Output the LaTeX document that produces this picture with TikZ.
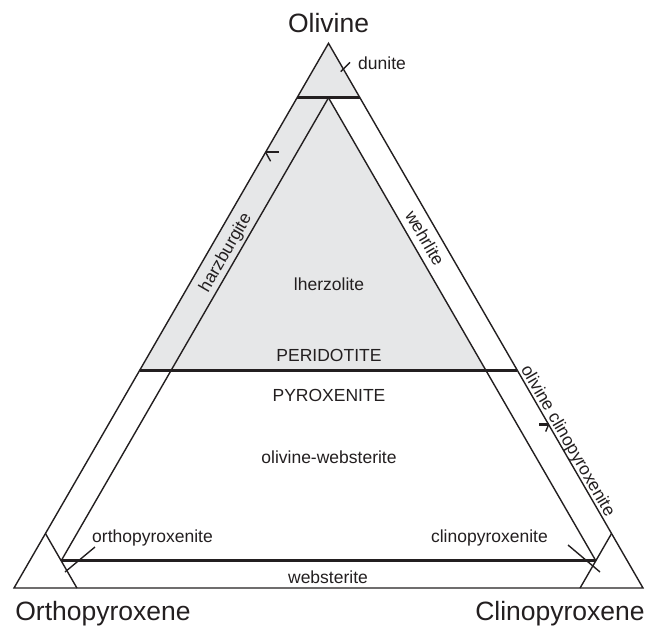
\documentclass[tikz,border=0pt]{standalone}
\usepackage{fontspec}
\setmainfont{Liberation Sans}
\usetikzlibrary{calc}
\definecolor{ink}{RGB}{35,31,32}
\definecolor{fieldgray}{RGB}{230,231,232}
\begin{document}
\begin{tikzpicture}[x=1pt,y=-1pt,
  edge/.style={draw=ink,line width=1.4pt},
  heavy/.style={draw=ink,line width=3pt},
  tickmark/.style={draw=ink,line width=2.2pt},
  lead/.style={draw=ink,line width=1.4pt},
  lab/.style={font=\fontsize{17.5}{20}\selectfont,text=ink,inner sep=0pt},
  vlab/.style={font=\fontsize{26.5}{30}\selectfont,text=ink,inner sep=0pt}]
\useasboundingbox (0,0) rectangle (659,628);
\fill[white] (0,0) rectangle (659,628);
% vertices
\coordinate (opx) at (14,588);
\coordinate (cpx) at (643,588);
\coordinate (ol) at (328.5,43.3);
% ternary points
\coordinate (d1) at (barycentric cs:ol=0.9,opx=0.1);
\coordinate (d2) at (barycentric cs:ol=0.9,cpx=0.1);
\coordinate (m) at (barycentric cs:ol=0.9,opx=0.05,cpx=0.05);
\coordinate (p1) at (barycentric cs:ol=0.4,opx=0.6);
\coordinate (p2) at (barycentric cs:ol=0.4,cpx=0.6);
\coordinate (q2) at (barycentric cs:ol=0.4,opx=0.05,cpx=0.55);
\coordinate (l5) at (barycentric cs:ol=0.05,opx=0.9,cpx=0.05);
\coordinate (r5) at (barycentric cs:ol=0.05,opx=0.05,cpx=0.9);
\coordinate (o1) at (barycentric cs:ol=0.1,opx=0.9);
\coordinate (o2) at (barycentric cs:cpx=0.1,opx=0.9);
\coordinate (c1) at (barycentric cs:ol=0.1,cpx=0.9);
\coordinate (c2) at (barycentric cs:opx=0.1,cpx=0.9);
\coordinate (t1) at (barycentric cs:ol=0.8,opx=0.2);
\coordinate (t2) at (barycentric cs:ol=0.3,cpx=0.7);
% shading of the peridotite fields
\fill[fieldgray] (ol) -- (d2) -- (m) -- (q2) -- (p1) -- cycle;
% outline and field boundaries
\draw[edge] (opx) -- (cpx) -- (ol) -- cycle;
\draw[edge] (m) -- (l5);
\draw[edge] (m) -- (r5);
\draw[edge] (o1) -- (o2);
\draw[edge] (c1) -- (c2);
\draw[heavy] (d1) -- (d2);
\draw[heavy] (p1) -- (p2);
\draw[heavy] (l5) -- (r5);
% ticks
\draw[tickmark] (t1) -- ++(13,0);
\draw[edge] (t1) -- ++(5,9);
\draw[tickmark] (t2) -- ++(-10,0);
\draw[edge] (t2) -- ++(-3,7);
% vertex labels
\node[vlab,anchor=base] (olv) at (328.5,33) {Olivine};
\node[vlab,anchor=base] (opxl) at (103,620) {Orthopyroxene};
\node[vlab,anchor=base] (cpxl) at (560,620) {Clinopyroxene};
% field labels
\node[lab,anchor=base west] (dun) at (358,70) {dunite};
\node[lab,rotate=60] (harz) at (226,253) {harzburgite};
\node[lab,rotate=-60] (wehr) at (425,238) {wehrlite};
\node[lab,anchor=base] (lherz) at (329,291) {lherzolite};
\node[lab,anchor=base] (perid) at (329,362) {PERIDOTITE};
\node[lab,anchor=base] (pyrox) at (329,402) {PYROXENITE};
\node[lab,anchor=base] (olweb) at (329,463) {olivine-websterite};
\node[lab,anchor=base west] (orthox) at (92,542) {orthopyroxenite};
\node[lab,anchor=base east] (clinox) at (548,542) {clinopyroxenite};
\node[lab,anchor=base] (webs) at (328,583) {websterite};
\node[lab,anchor=base,rotate=-60] (olcpx) at (563.4,443.5) {olivine clinopyroxenite};
% leaders
\coordinate (dunA) at (340.7,71.7);
\coordinate (dunB) at (350,62.3);
\draw[lead] (dunA) -- (dunB);
\coordinate (orA) at (95,547);
\coordinate (orB) at (65,572);
\draw[lead] (orA) -- (orB);
\coordinate (clA) at (568,545);
\coordinate (clB) at (600,572);
\draw[lead] (clA) -- (clB);
\end{tikzpicture}
\end{document}
